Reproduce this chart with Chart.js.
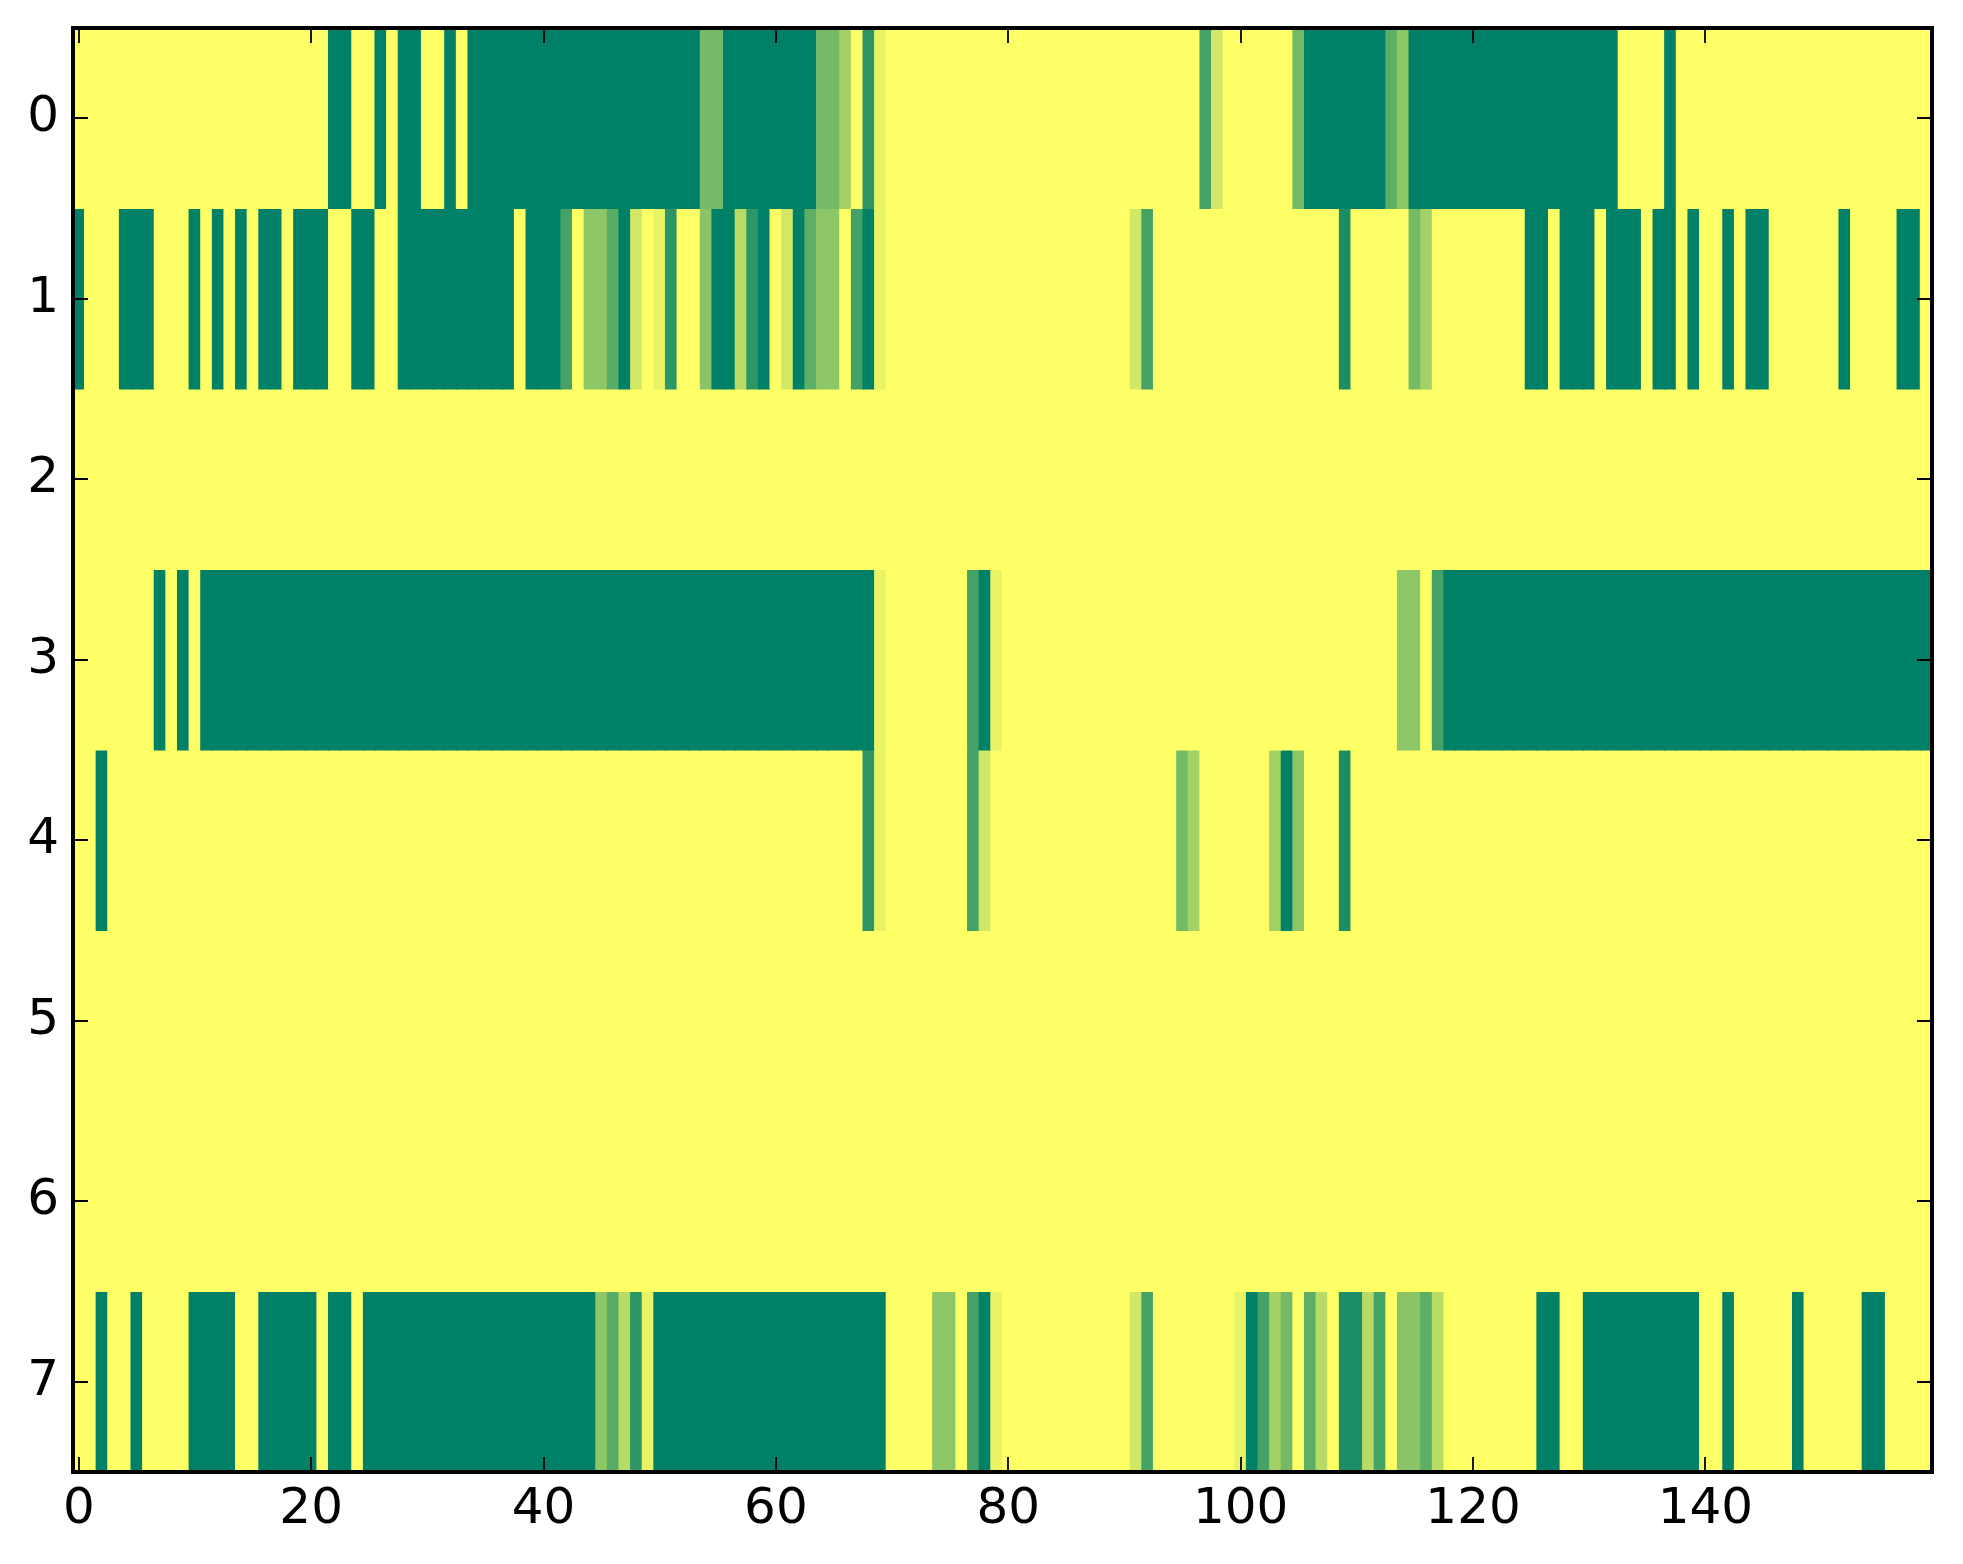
<!DOCTYPE html>
<html>
<head>
<meta charset="utf-8">
<script src="https://cdn.jsdelivr.net/npm/chart.js@4.4.1/dist/chart.umd.min.js"></script>
<style>
  html, body { margin: 0; padding: 0; background: #fff; }
  #wrap { width: 1963px; height: 1564px; }
</style>
</head>
<body>
<div id="wrap"><canvas id="heat" width="1963" height="1564"></canvas></div>
<script>
// one array per row, 160 cells each, values 0..1 (summer colormap)
const row0 = [
  1,1,1,1,1,1,1,1,1,1,1,1,1,1,1,1,1,1,1,1,
  1,1,0,0,1,1,0,1,0,0,1,1,0,1,0,0,0,0,0,0,
  0,0,0,0,0,0,0,0,0,0,0,0,0,0,0.46,0.46,0,0,0,0,
  0,0,0,0,0.46,0.46,0.64,1,0.18,0.91,1,1,1,1,1,1,1,1,1,1,
  1,1,1,1,1,1,1,1,1,1,1,1,1,1,1,1,1,0.27,0.82,1,
  1,1,1,1,1,0.45,0,0,0,0,0,0,0,0.37,0.55,0,0,0,0,0,
  0,0,0,0,0,0,0,0,0,0,0,0,0,1,1,1,1,0,1,1,
  1,1,1,1,1,1,1,1,1,1,1,1,1,1,1,1,1,1,1,1
];
const row1 = [
  0,1,1,1,0,0,0,1,1,1,0,1,0,1,0,1,0,0,1,0,
  0,0,1,1,0,0,1,1,0,0,0,0,0,0,0,0,0,0,1,0,
  0,0,0.27,1,0.55,0.55,0.35,0,0.82,1,0.91,0.18,1,1,0.54,0,0,0.72,0.18,0,
  1,0.82,0,0.37,0.55,0.55,1,0.27,0,0.91,1,1,1,1,1,1,1,1,1,1,
  1,1,1,1,1,1,1,1,1,1,1,0.82,0.27,1,1,1,1,1,1,1,
  1,1,1,1,1,1,1,1,1,0.11,1,1,1,1,1,0.46,0.64,1,1,1,
  1,1,1,1,1,0,0,1,0,0,0,1,0,0,0,1,0,0,1,0,
  1,1,0,1,0,0,1,1,1,1,1,1,0,1,1,1,1,0,0,1
];
const row2 = [
  1,1,1,1,1,1,1,1,1,1,1,1,1,1,1,1,1,1,1,1,
  1,1,1,1,1,1,1,1,1,1,1,1,1,1,1,1,1,1,1,1,
  1,1,1,1,1,1,1,1,1,1,1,1,1,1,1,1,1,1,1,1,
  1,1,1,1,1,1,1,1,1,1,1,1,1,1,1,1,1,1,1,1,
  1,1,1,1,1,1,1,1,1,1,1,1,1,1,1,1,1,1,1,1,
  1,1,1,1,1,1,1,1,1,1,1,1,1,1,1,1,1,1,1,1,
  1,1,1,1,1,1,1,1,1,1,1,1,1,1,1,1,1,1,1,1,
  1,1,1,1,1,1,1,1,1,1,1,1,1,1,1,1,1,1,1,1
];
const row3 = [
  1,1,1,1,1,1,1,0,1,0,1,0,0,0,0,0,0,0,0,0,
  0,0,0,0,0,0,0,0,0,0,0,0,0,0,0,0,0,0,0,0,
  0,0,0,0,0,0,0,0,0,0,0,0,0,0,0,0,0,0,0,0,
  0,0,0,0,0,0,0,0,0,0.91,1,1,1,1,1,1,1,0.27,0,0.91,
  1,1,1,1,1,1,1,1,1,1,1,1,1,1,1,1,1,1,1,1,
  1,1,1,1,1,1,1,1,1,1,1,1,1,1,0.55,0.55,1,0.27,0,0,
  0,0,0,0,0,0,0,0,0,0,0,0,0,0,0,0,0,0,0,0,
  0,0,0,0,0,0,0,0,0,0,0,0,0,0,0,0,0,0,0,0
];
const row4 = [
  1,1,0,1,1,1,1,1,1,1,1,1,1,1,1,1,1,1,1,1,
  1,1,1,1,1,1,1,1,1,1,1,1,1,1,1,1,1,1,1,1,
  1,1,1,1,1,1,1,1,1,1,1,1,1,1,1,1,1,1,1,1,
  1,1,1,1,1,1,1,1,0.18,0.91,1,1,1,1,1,1,1,0.27,0.82,1,
  1,1,1,1,1,1,1,1,1,1,1,1,1,1,1,0.45,0.64,1,1,1,
  1,1,1,0.64,0,0.55,1,1,1,0.11,1,1,1,1,1,1,1,1,1,1,
  1,1,1,1,1,1,1,1,1,1,1,1,1,1,1,1,1,1,1,1,
  1,1,1,1,1,1,1,1,1,1,1,1,1,1,1,1,1,1,1,1
];
const row5 = [
  1,1,1,1,1,1,1,1,1,1,1,1,1,1,1,1,1,1,1,1,
  1,1,1,1,1,1,1,1,1,1,1,1,1,1,1,1,1,1,1,1,
  1,1,1,1,1,1,1,1,1,1,1,1,1,1,1,1,1,1,1,1,
  1,1,1,1,1,1,1,1,1,1,1,1,1,1,1,1,1,1,1,1,
  1,1,1,1,1,1,1,1,1,1,1,1,1,1,1,1,1,1,1,1,
  1,1,1,1,1,1,1,1,1,1,1,1,1,1,1,1,1,1,1,1,
  1,1,1,1,1,1,1,1,1,1,1,1,1,1,1,1,1,1,1,1,
  1,1,1,1,1,1,1,1,1,1,1,1,1,1,1,1,1,1,1,1
];
const row6 = [
  1,1,1,1,1,1,1,1,1,1,1,1,1,1,1,1,1,1,1,1,
  1,1,1,1,1,1,1,1,1,1,1,1,1,1,1,1,1,1,1,1,
  1,1,1,1,1,1,1,1,1,1,1,1,1,1,1,1,1,1,1,1,
  1,1,1,1,1,1,1,1,1,1,1,1,1,1,1,1,1,1,1,1,
  1,1,1,1,1,1,1,1,1,1,1,1,1,1,1,1,1,1,1,1,
  1,1,1,1,1,1,1,1,1,1,1,1,1,1,1,1,1,1,1,1,
  1,1,1,1,1,1,1,1,1,1,1,1,1,1,1,1,1,1,1,1,
  1,1,1,1,1,1,1,1,1,1,1,1,1,1,1,1,1,1,1,1
];
const row7 = [
  1,1,0,1,1,0,1,1,1,1,0,0,0,0,1,1,0,0,0,0,
  0,1,0,0,1,0,0,0,0,0,0,0,0,0,0,0,0,0,0,0,
  0,0,0,0,0,0.55,0.35,0.72,0.18,0.91,0,0,0,0,0,0,0,0,0,0,
  0,0,0,0,0,0,0,0,0,0,1,1,1,1,0.55,0.55,1,0.27,0,0.91,
  1,1,1,1,1,1,1,1,1,1,1,0.82,0.27,1,1,1,1,1,1,1,
  0.91,0,0.27,0.64,0.45,1,0.37,0.72,1,0.11,0.11,0.72,0.27,1,0.54,0.54,0.37,0.72,1,1,
  1,1,1,1,1,1,0,0,1,1,0,0,0,0,0,0,0,0,0,0,
  1,1,0,1,1,1,1,1,0,1,1,1,1,1,0,0,1,1,1,1
];

const rows = [row0, row1, row2, row3, row4, row5, row6, row7];
const colLabels = row0.map((v, i) => String(i));
const xTicks = [0, 20, 40, 60, 80, 100, 120, 140];
const yTicks = [0, 1, 2, 3, 4, 5, 6, 7];

// matplotlib "summer": r = v, g = 0.5 + v/2, b = 0.4
function summer(v) {
  const r = Math.round(255 * v);
  const g = Math.round(255 * (0.5 + 0.5 * v));
  return "rgb(" + r + "," + g + ",102)";
}

const frame = {
  id: "frame",
  afterDraw(chart) {
    const { ctx, chartArea: a, scales } = chart;
    ctx.save();
    ctx.strokeStyle = "#000";
    ctx.lineWidth = 1.8;
    ctx.beginPath();
    xTicks.forEach(v => {
      const px = Math.round(scales.x.getPixelForValue(v));
      ctx.moveTo(px, a.bottom); ctx.lineTo(px, a.bottom - 15);
      ctx.moveTo(px, a.top); ctx.lineTo(px, a.top + 15);
    });
    yTicks.forEach(v => {
      const py = Math.round(scales.y.getPixelForValue(v));
      ctx.moveTo(a.left, py); ctx.lineTo(a.left + 15, py);
      ctx.moveTo(a.right, py); ctx.lineTo(a.right - 15, py);
    });
    ctx.stroke();
    ctx.lineWidth = 4;
    ctx.strokeRect(a.left, a.top, a.right - a.left, a.bottom - a.top);
    ctx.restore();
  }
};

const heat = document.querySelector("#heat").getContext("2d");

Chart.defaults.font.family = "DejaVu Sans";
Chart.defaults.font.size = 50;
Chart.defaults.color = "#000";

const heatChart = new Chart(heat, {
  type: "bar",
  data: {
    labels: colLabels,
    datasets: rows.map((vals, r) => ({
      label: "row " + r,
      data: vals.map(() => [r - 0.5, r + 0.5]),
      backgroundColor: vals.map(summer),
      borderWidth: 0,
      inflateAmount: 0.6,
      barPercentage: 1,
      categoryPercentage: 1,
      grouped: false,
    })),
  },
  options: {
    responsive: false,
    devicePixelRatio: 1,
    animation: false,
    layout: {
      padding: { top: 28, right: 31, bottom: 0, left: 0 },
    },
    plugins: {
      legend: { display: false },
      tooltip: { enabled: false },
      title: { display: false },
    },
    scales: {
      x: {
        type: "category",
        grid: { display: false, drawTicks: false },
        border: { display: false },
        ticks: { autoSkip: false, maxRotation: 0, padding: 8 },
        afterBuildTicks: s => { s.ticks = s.ticks.filter(t => xTicks.includes(t.value)); },
        afterFit: s => { s.height = 92; s.paddingLeft = 0; s.paddingRight = 0; },
      },
      y: {
        type: "linear",
        reverse: true,
        min: -0.5,
        max: 7.5,
        grid: { display: false, drawTicks: false },
        border: { display: false },
        ticks: { padding: 14 },
        afterBuildTicks: s => { s.ticks = yTicks.map(v => ({ value: v })); },
        afterFit: s => { s.width = 73; s.paddingTop = 0; s.paddingBottom = 0; },
      },
    },
  },
  plugins: [frame],
});
</script>
</body>
</html>
